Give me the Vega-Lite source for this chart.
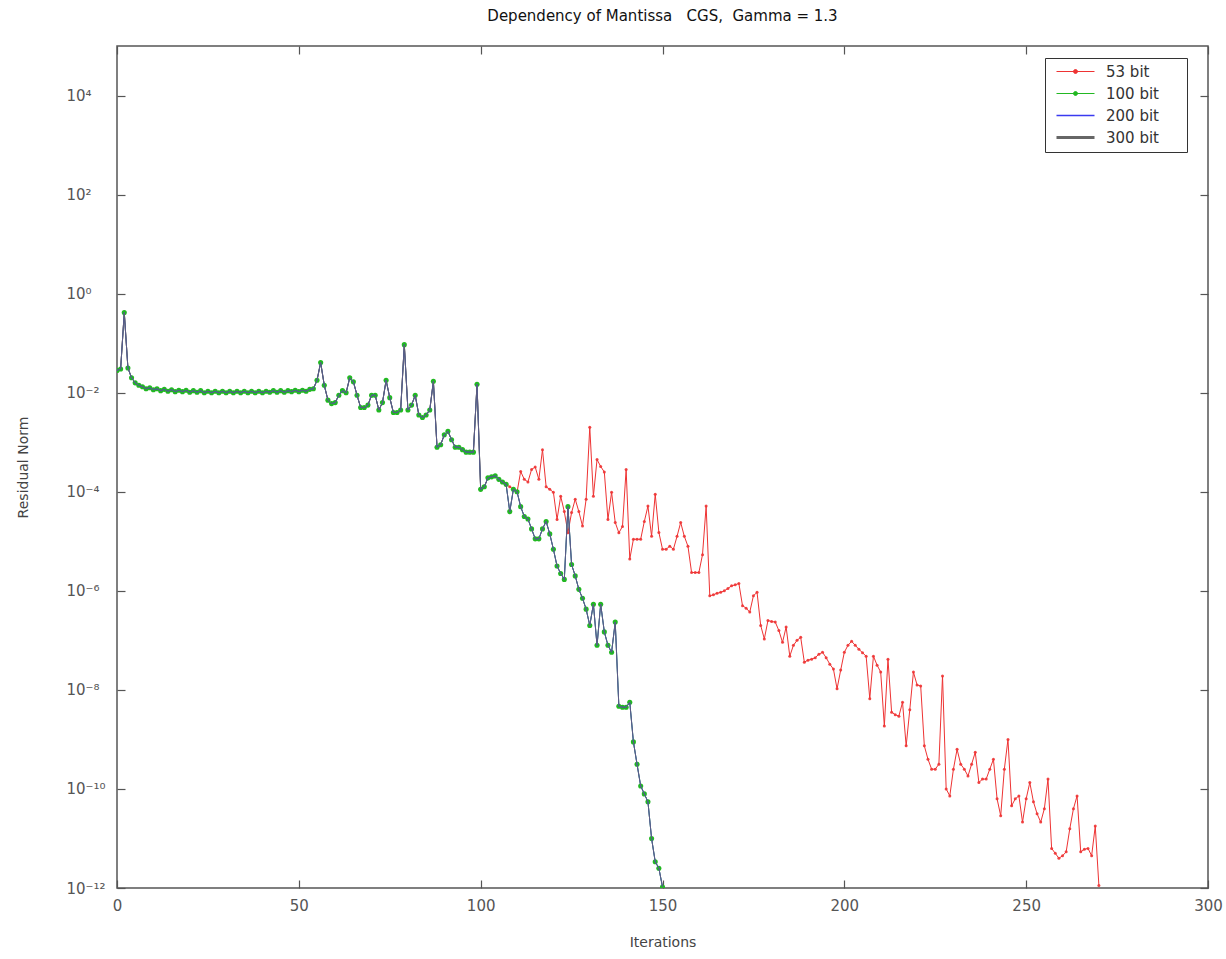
{
  "$schema": "https://vega.github.io/schema/vega-lite/v6.json",
  "width": 1091,
  "height": 842,
  "autosize": {"type": "none"},
  "padding": {"left": 117, "top": 46, "right": 18, "bottom": 71},
  "background": "white",
  "title": {
    "text": "Dependency of Mantissa\u00a0\u00a0\u00a0CGS,\u00a0\u00a0Gamma = 1.3",
    "fontSize": 15,
    "fontWeight": "normal",
    "font": "DejaVu Sans",
    "color": "#111",
    "offset": 21
  },
  "config": {
    "font": "DejaVu Sans",
    "view": {"stroke": "#555", "strokeWidth": 1.5},
    "axis": {
      "grid": false,
      "domain": false,
      "tickColor": "#555",
      "tickWidth": 1.2,
      "labelFont": "DejaVu Sans",
      "labelFontSize": 15,
      "labelColor": "#555",
      "titleFont": "DejaVu Sans",
      "titleFontSize": 14,
      "titleFontWeight": "normal",
      "titleColor": "#444"
    }
  },
  "data": {
    "values": [
      {"it":0,"r53":2.82e-2,"r100":2.82e-2},{"it":1,"r53":3.02e-2,"r100":3.02e-2},{"it":2,"r53":4.17e-1,"r100":4.17e-1},
      {"it":3,"r53":3.16e-2,"r100":3.16e-2},{"it":4,"r53":2.0e-2,"r100":2.0e-2},{"it":5,"r53":1.58e-2,"r100":1.58e-2},
      {"it":6,"r53":1.41e-2,"r100":1.41e-2},{"it":7,"r53":1.32e-2,"r100":1.32e-2},{"it":8,"r53":1.20e-2,"r100":1.20e-2},
      {"it":9,"r53":1.26e-2,"r100":1.26e-2},{"it":10,"r53":1.15e-2,"r100":1.15e-2},{"it":11,"r53":1.20e-2,"r100":1.20e-2},
      {"it":12,"r53":1.10e-2,"r100":1.10e-2},{"it":13,"r53":1.17e-2,"r100":1.17e-2},{"it":14,"r53":1.07e-2,"r100":1.07e-2},
      {"it":15,"r53":1.15e-2,"r100":1.15e-2},{"it":16,"r53":1.05e-2,"r100":1.05e-2},{"it":17,"r53":1.12e-2,"r100":1.12e-2},
      {"it":18,"r53":1.05e-2,"r100":1.05e-2},{"it":19,"r53":1.12e-2,"r100":1.12e-2},{"it":20,"r53":1.02e-2,"r100":1.02e-2},
      {"it":21,"r53":1.10e-2,"r100":1.10e-2},{"it":22,"r53":1.02e-2,"r100":1.02e-2},{"it":23,"r53":1.10e-2,"r100":1.10e-2},
      {"it":24,"r53":1.0e-2,"r100":1.0e-2},{"it":25,"r53":1.07e-2,"r100":1.07e-2},{"it":26,"r53":1.0e-2,"r100":1.0e-2},
      {"it":27,"r53":1.07e-2,"r100":1.07e-2},{"it":28,"r53":1.0e-2,"r100":1.0e-2},{"it":29,"r53":1.07e-2,"r100":1.07e-2},
      {"it":30,"r53":1.0e-2,"r100":1.0e-2},{"it":31,"r53":1.07e-2,"r100":1.07e-2},{"it":32,"r53":1.0e-2,"r100":1.0e-2},
      {"it":33,"r53":1.07e-2,"r100":1.07e-2},{"it":34,"r53":1.0e-2,"r100":1.0e-2},{"it":35,"r53":1.07e-2,"r100":1.07e-2},
      {"it":36,"r53":1.0e-2,"r100":1.0e-2},{"it":37,"r53":1.07e-2,"r100":1.07e-2},{"it":38,"r53":1.0e-2,"r100":1.0e-2},
      {"it":39,"r53":1.07e-2,"r100":1.07e-2},{"it":40,"r53":1.0e-2,"r100":1.0e-2},{"it":41,"r53":1.07e-2,"r100":1.07e-2},
      {"it":42,"r53":1.02e-2,"r100":1.02e-2},{"it":43,"r53":1.10e-2,"r100":1.10e-2},{"it":44,"r53":1.02e-2,"r100":1.02e-2},
      {"it":45,"r53":1.10e-2,"r100":1.10e-2},{"it":46,"r53":1.02e-2,"r100":1.02e-2},{"it":47,"r53":1.10e-2,"r100":1.10e-2},
      {"it":48,"r53":1.05e-2,"r100":1.05e-2},{"it":49,"r53":1.12e-2,"r100":1.12e-2},{"it":50,"r53":1.05e-2,"r100":1.05e-2},
      {"it":51,"r53":1.12e-2,"r100":1.12e-2},{"it":52,"r53":1.07e-2,"r100":1.07e-2},{"it":53,"r53":1.17e-2,"r100":1.17e-2},
      {"it":54,"r53":1.20e-2,"r100":1.20e-2},{"it":55,"r53":1.78e-2,"r100":1.78e-2},{"it":56,"r53":4.07e-2,"r100":4.07e-2},
      {"it":57,"r53":1.41e-2,"r100":1.41e-2},{"it":58,"r53":7.08e-3,"r100":7.08e-3},{"it":59,"r53":6.03e-3,"r100":6.03e-3},
      {"it":60,"r53":6.31e-3,"r100":6.31e-3},{"it":61,"r53":8.91e-3,"r100":8.91e-3},{"it":62,"r53":1.10e-2,"r100":1.10e-2},
      {"it":63,"r53":1.0e-2,"r100":1.0e-2},{"it":64,"r53":2.0e-2,"r100":2.0e-2},{"it":65,"r53":1.66e-2,"r100":1.66e-2},
      {"it":66,"r53":8.91e-3,"r100":8.91e-3},{"it":67,"r53":5.01e-3,"r100":5.01e-3},{"it":68,"r53":5.01e-3,"r100":5.01e-3},
      {"it":69,"r53":5.62e-3,"r100":5.62e-3},{"it":70,"r53":8.91e-3,"r100":8.91e-3},{"it":71,"r53":8.91e-3,"r100":8.91e-3},
      {"it":72,"r53":4.47e-3,"r100":4.47e-3},{"it":73,"r53":6.31e-3,"r100":6.31e-3},{"it":74,"r53":1.78e-2,"r100":1.78e-2},
      {"it":75,"r53":7.94e-3,"r100":7.94e-3},{"it":76,"r53":3.98e-3,"r100":3.98e-3},{"it":77,"r53":3.98e-3,"r100":3.98e-3},
      {"it":78,"r53":4.47e-3,"r100":4.47e-3},{"it":79,"r53":9.33e-2,"r100":9.33e-2},{"it":80,"r53":4.47e-3,"r100":4.47e-3},
      {"it":81,"r53":5.62e-3,"r100":5.62e-3},{"it":82,"r53":8.91e-3,"r100":8.91e-3},{"it":83,"r53":3.55e-3,"r100":3.55e-3},
      {"it":84,"r53":3.16e-3,"r100":3.16e-3},{"it":85,"r53":3.55e-3,"r100":3.55e-3},{"it":86,"r53":4.47e-3,"r100":4.47e-3},
      {"it":87,"r53":1.70e-2,"r100":1.70e-2},{"it":88,"r53":7.94e-4,"r100":7.94e-4},{"it":89,"r53":8.91e-4,"r100":8.91e-4},
      {"it":90,"r53":1.41e-3,"r100":1.41e-3},{"it":91,"r53":1.66e-3,"r100":1.66e-3},{"it":92,"r53":1.12e-3,"r100":1.12e-3},
      {"it":93,"r53":7.94e-4,"r100":7.94e-4},{"it":94,"r53":7.94e-4,"r100":7.94e-4},{"it":95,"r53":7.08e-4,"r100":7.08e-4},
      {"it":96,"r53":6.31e-4,"r100":6.31e-4},{"it":97,"r53":6.31e-4,"r100":6.31e-4},{"it":98,"r53":6.31e-4,"r100":6.31e-4},
      {"it":99,"r53":1.48e-2,"r100":1.48e-2},{"it":100,"r53":1.12e-4,"r100":1.12e-4},{"it":101,"r53":1.26e-4,"r100":1.26e-4},
      {"it":102,"r53":1.91e-4,"r100":1.91e-4},{"it":103,"r53":2.0e-4,"r100":2.0e-4},{"it":104,"r53":2.09e-4,"r100":2.09e-4},
      {"it":105,"r53":1.78e-4,"r100":1.78e-4},{"it":106,"r53":1.58e-4,"r100":1.58e-4},{"it":107,"r53":1.41e-4,"r100":1.41e-4},
      {"it":108,"r53":1.26e-4,"r100":3.98e-5},{"it":109,"r53":1.12e-4,"r100":1.12e-4},{"it":110,"r53":9.77e-5,"r100":1.0e-4},
      {"it":111,"r53":2.57e-4,"r100":5.01e-5},{"it":112,"r53":1.78e-4,"r100":3.16e-5},{"it":113,"r53":1.58e-4,"r100":2.82e-5},
      {"it":114,"r53":2.82e-4,"r100":1.78e-5},{"it":115,"r53":3.16e-4,"r100":1.12e-5},{"it":116,"r53":1.78e-4,"r100":1.12e-5},
      {"it":117,"r53":7.08e-4,"r100":1.78e-5},{"it":118,"r53":1.26e-4,"r100":2.51e-5},{"it":119,"r53":1.12e-4,"r100":1.41e-5},
      {"it":120,"r53":9.77e-5,"r100":6.92e-6},{"it":121,"r53":2.75e-5,"r100":3.16e-6},{"it":122,"r53":8.13e-5,"r100":2.24e-6},
      {"it":123,"r53":3.98e-5,"r100":1.70e-6},{"it":124,"r53":1.48e-5,"r100":5.01e-5},{"it":125,"r53":3.80e-5,"r100":3.39e-6},
      {"it":126,"r53":7.08e-5,"r100":2.0e-6},{"it":127,"r53":3.98e-5,"r100":1.07e-6},{"it":128,"r53":2.04e-5,"r100":7.08e-7},
      {"it":129,"r53":7.08e-5,"r100":4.27e-7},{"it":130,"r53":2.0e-3,"r100":2.0e-7},{"it":131,"r53":8.13e-5,"r100":5.37e-7},
      {"it":132,"r53":4.47e-4,"r100":7.94e-8},{"it":133,"r53":3.24e-4,"r100":5.37e-7},{"it":134,"r53":2.51e-4,"r100":1.48e-7},
      {"it":135,"r53":2.75e-5,"r100":7.94e-8},{"it":136,"r53":9.77e-5,"r100":5.75e-8},{"it":137,"r53":2.40e-5,"r100":2.34e-7},
      {"it":138,"r53":1.48e-5,"r100":4.68e-9},{"it":139,"r53":2.0e-5,"r100":4.47e-9},{"it":140,"r53":2.82e-4,"r100":4.47e-9},
      {"it":141,"r53":4.37e-6,"r100":5.62e-9},{"it":142,"r53":1.10e-5,"r100":8.91e-10},{"it":143,"r53":1.10e-5,"r100":3.16e-10},
      {"it":144,"r53":1.10e-5,"r100":1.15e-10},{"it":145,"r53":2.51e-5,"r100":7.94e-11},{"it":146,"r53":5.13e-5,"r100":5.50e-11},
      {"it":147,"r53":1.26e-5,"r100":1.0e-11},{"it":148,"r53":8.91e-5,"r100":3.39e-12},{"it":149,"r53":1.51e-5,"r100":2.51e-12},
      {"it":150,"r53":6.92e-6,"r100":1.05e-12},
      {"it":151,"r53":6.92e-6},{"it":152,"r53":7.94e-6},{"it":153,"r53":6.92e-6},{"it":154,"r53":1.26e-5},{"it":155,"r53":2.40e-5},
      {"it":156,"r53":1.26e-5},{"it":157,"r53":7.94e-6},{"it":158,"r53":2.34e-6},{"it":159,"r53":2.34e-6},{"it":160,"r53":2.34e-6},
      {"it":161,"r53":5.37e-6},{"it":162,"r53":5.13e-5},{"it":163,"r53":7.94e-7},{"it":164,"r53":8.32e-7},{"it":165,"r53":8.91e-7},
      {"it":166,"r53":9.33e-7},{"it":167,"r53":1.0e-6},{"it":168,"r53":1.12e-6},{"it":169,"r53":1.26e-6},{"it":170,"r53":1.32e-6},
      {"it":171,"r53":1.41e-6},{"it":172,"r53":5.01e-7},{"it":173,"r53":4.47e-7},{"it":174,"r53":3.72e-7},{"it":175,"r53":7.94e-7},
      {"it":176,"r53":9.33e-7},{"it":177,"r53":2.0e-7},{"it":178,"r53":1.07e-7},{"it":179,"r53":2.51e-7},{"it":180,"r53":2.40e-7},
      {"it":181,"r53":2.34e-7},{"it":182,"r53":1.58e-7},{"it":183,"r53":9.12e-8},{"it":184,"r53":1.86e-7},{"it":185,"r53":4.79e-8},
      {"it":186,"r53":7.94e-8},{"it":187,"r53":1.0e-7},{"it":188,"r53":1.15e-7},{"it":189,"r53":3.63e-8},{"it":190,"r53":3.98e-8},
      {"it":191,"r53":4.17e-8},{"it":192,"r53":4.47e-8},{"it":193,"r53":5.25e-8},{"it":194,"r53":5.75e-8},{"it":195,"r53":4.47e-8},
      {"it":196,"r53":3.31e-8},{"it":197,"r53":2.63e-8},{"it":198,"r53":1.05e-8},{"it":199,"r53":2.51e-8},{"it":200,"r53":5.75e-8},
      {"it":201,"r53":7.94e-8},{"it":202,"r53":9.55e-8},{"it":203,"r53":7.94e-8},{"it":204,"r53":6.61e-8},{"it":205,"r53":5.62e-8},
      {"it":206,"r53":4.79e-8},{"it":207,"r53":6.61e-9},{"it":208,"r53":4.79e-8},{"it":209,"r53":3.16e-8},{"it":210,"r53":2.29e-8},
      {"it":211,"r53":1.86e-9},{"it":212,"r53":4.17e-8},{"it":213,"r53":3.55e-9},{"it":214,"r53":3.16e-9},{"it":215,"r53":2.95e-9},
      {"it":216,"r53":5.62e-9},{"it":217,"r53":7.41e-10},{"it":218,"r53":3.98e-9},{"it":219,"r53":2.29e-8},{"it":220,"r53":1.26e-8},
      {"it":221,"r53":1.20e-8},{"it":222,"r53":7.41e-10},{"it":223,"r53":3.98e-10},{"it":224,"r53":2.51e-10},{"it":225,"r53":2.51e-10},
      {"it":226,"r53":3.16e-10},{"it":227,"r53":1.91e-8},{"it":228,"r53":1.0e-10},{"it":229,"r53":7.24e-11},{"it":230,"r53":2.51e-10},
      {"it":231,"r53":6.31e-10},{"it":232,"r53":3.16e-10},{"it":233,"r53":2.51e-10},{"it":234,"r53":1.82e-10},{"it":235,"r53":3.16e-10},
      {"it":236,"r53":5.50e-10},{"it":237,"r53":1.35e-10},{"it":238,"r53":1.58e-10},{"it":239,"r53":1.58e-10},{"it":240,"r53":2.51e-10},
      {"it":241,"r53":3.98e-10},{"it":242,"r53":6.31e-11},{"it":243,"r53":2.88e-11},{"it":244,"r53":2.51e-10},{"it":245,"r53":1.0e-9},
      {"it":246,"r53":4.57e-11},{"it":247,"r53":6.31e-11},{"it":248,"r53":7.24e-11},{"it":249,"r53":2.14e-11},{"it":250,"r53":6.31e-11},
      {"it":251,"r53":1.35e-10},{"it":252,"r53":5.50e-11},{"it":253,"r53":3.16e-11},{"it":254,"r53":2.14e-11},{"it":255,"r53":3.98e-11},
      {"it":256,"r53":1.58e-10},{"it":257,"r53":6.31e-12},{"it":258,"r53":5.01e-12},{"it":259,"r53":3.98e-12},{"it":260,"r53":4.47e-12},
      {"it":261,"r53":5.37e-12},{"it":262,"r53":1.58e-11},{"it":263,"r53":3.98e-11},{"it":264,"r53":7.24e-11},{"it":265,"r53":5.37e-12},
      {"it":266,"r53":6.03e-12},{"it":267,"r53":6.31e-12},{"it":268,"r53":4.47e-12},{"it":269,"r53":1.78e-11},{"it":270,"r53":1.12e-12}
    ]
  },
  "resolve": {"axis": {"x": "independent", "y": "independent"}},
  "layer": [
    {
      "transform": [{"filter": "isValid(datum.r53)"}],
      "mark": {"type": "line", "strokeWidth": 1, "clip": true, "point": {"filled": true, "size": 9, "opacity": 0.9}},
      "encoding": {
        "x": {
          "field": "it", "type": "quantitative",
          "scale": {"domain": [0, 300], "nice": false, "zero": false},
          "axis": {"title": "Iterations", "values": [0, 50, 100, 150, 200, 250, 300], "tickSize": -8, "labelPadding": 18, "titlePadding": 22, "labelFlush": false}
        },
        "y": {
          "field": "r53", "type": "quantitative",
          "scale": {"type": "log", "domain": [1e-12, 1e5], "nice": false},
          "axis": {
            "title": "Residual Norm",
            "values": [1e4, 1e2, 1, 1e-2, 1e-4, 1e-6, 1e-8, 1e-10, 1e-12],
            "labelExpr": "'10' + ({'4':'⁴','2':'²','0':'⁰','-2':'⁻²','-4':'⁻⁴','-6':'⁻⁶','-8':'⁻⁸','-10':'⁻¹⁰','-12':'⁻¹²'})['' + round(log(datum.value) / LN10)]",
            "labelAlign": "left",
            "tickSize": -8, "labelPadding": 59, "titlePadding": 36, "labelFlush": false
          }
        },
        "color": {
          "datum": "53 bit", "type": "nominal",
          "scale": {"domain": ["53 bit", "100 bit", "200 bit", "300 bit"], "range": ["#ee3333", "#22b822", "#3a3af0", "#666666"]},
          "legend": {
            "title": null,
            "orient": "none",
            "legendX": 928,
            "legendY": 12,
            "strokeColor": "#333",
            "fillColor": "white",
            "padding": 6,
            "labelFontSize": 15,
            "labelColor": "#333",
            "labelFont": "DejaVu Sans",
            "labelExpr": "(datum.label === '53 bit' ? '\u2007' : '') + datum.label + '\u2800\u2800'",
            "symbolSize": 400,
            "symbolOffset": 17,
            "labelOffset": 23,
            "rowPadding": 6,
            "encode": {
              "symbols": {
                "update": {
                  "shape": {"signal": "datum.value === '53 bit' || datum.value === '100 bit' ? 'M-1.9,0H1.9M-0.2,0A0.2,0.2,0,1,0,0.2,0A0.2,0.2,0,1,0,-0.2,0' : 'M-1.9,0H1.9'"},
                  "strokeWidth": {"signal": "datum.value === '300 bit' ? 3 : datum.value === '200 bit' ? 1.4 : 1"},
                  "fill": {"signal": "datum.value === '53 bit' ? '#ee3333' : datum.value === '100 bit' ? '#22b822' : datum.value === '200 bit' ? '#3a3af0' : '#888888'"},
                  "fillOpacity": {"value": 1}
                }
              }
            }
          }
        }
      }
    },
    {
      "transform": [{"filter": "isValid(datum.r100)"}],
      "mark": {"type": "line", "strokeWidth": 1, "clip": true, "point": {"filled": true, "size": 26}},
      "encoding": {
        "x": {"field": "it", "type": "quantitative", "axis": null},
        "y": {"field": "r100", "type": "quantitative", "axis": null},
        "color": {"datum": "100 bit", "type": "nominal"}
      }
    },
    {
      "transform": [{"filter": "isValid(datum.r100)"}],
      "mark": {"type": "line", "strokeWidth": 1, "clip": true},
      "encoding": {
        "x": {"field": "it", "type": "quantitative", "axis": null},
        "y": {"field": "r100", "type": "quantitative", "axis": null},
        "color": {"datum": "200 bit", "type": "nominal"}
      }
    },
    {
      "transform": [{"filter": "isValid(datum.r100)"}],
      "mark": {"type": "line", "strokeWidth": 0.8, "clip": true},
      "encoding": {
        "x": {"field": "it", "type": "quantitative", "axis": null},
        "y": {"field": "r100", "type": "quantitative", "axis": null},
        "color": {"datum": "300 bit", "type": "nominal"}
      }
    },
    {
      "transform": [{"filter": "isValid(datum.r53)"}],
      "mark": {"type": "point", "opacity": 0},
      "encoding": {
        "x": {
          "field": "it", "type": "quantitative",
          "axis": {"orient": "top", "title": null, "labels": false, "values": [0, 50, 100, 150, 200, 250, 300], "tickSize": -8}
        },
        "y": {
          "field": "r53", "type": "quantitative",
          "axis": {"orient": "right", "title": null, "labels": false, "values": [1e4, 1e2, 1, 1e-2, 1e-4, 1e-6, 1e-8, 1e-10, 1e-12], "tickSize": -8}
        }
      }
    }
  ]
}
